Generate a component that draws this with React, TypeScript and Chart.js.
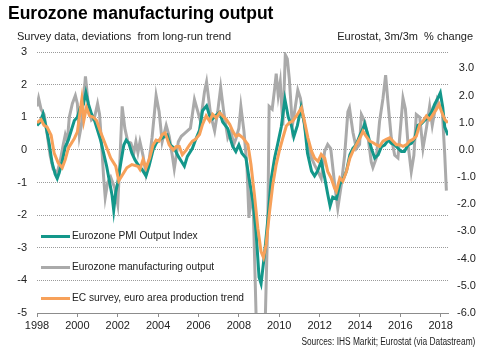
import React, { useEffect, useRef } from "react";
import { Chart, registerables } from "chart.js";

Chart.register(...registerables);

const TITLE = "Eurozone manufacturing output";
const SUB_LEFT = "Survey data, deviations\u00a0 from long-run trend";
const SUB_RIGHT = "Eurostat, 3m/3m\u00a0 % change";
const SOURCE = "Sources: IHS Markit; Eurostat (via Datastream)";

const seriesNames = [
  "Eurozone PMI Output Index",
  "Eurozone manufacturing output",
  "EC survey, euro area production trend",
];
const seriesColors = ["#13978a", "#aaaaaa", "#f7a15a"];

const xTicks = [1998, 2000, 2002, 2004, 2006, 2008, 2010, 2012, 2014, 2016, 2018];
const leftTicks = [-5, -4, -3, -2, -1, 0, 1, 2, 3];
const rightTicks = [-6, -5, -4, -3, -2, -1, 0, 1, 2, 3];

// [decimal year, value] — survey deviation from trend (left axis)
const pmiOutput: [number, number][] = [
  [1998.0, 0.75], [1998.15, 0.85], [1998.3, 1.1], [1998.45, 0.7], [1998.6, 0.2], [1998.75, -0.4],
  [1998.9, -0.75], [1999.0, -0.88], [1999.1, -0.7], [1999.25, -0.35], [1999.4, 0.1], [1999.55, 0.3],
  [1999.7, 0.6], [1999.85, 0.9], [2000.0, 1.0], [2000.15, 1.3], [2000.3, 1.4], [2000.42, 1.75],
  [2000.55, 1.4], [2000.7, 1.1], [2000.85, 0.9], [2001.0, 0.6], [2001.15, 0.3], [2001.3, -0.1],
  [2001.45, -0.5], [2001.6, -1.0], [2001.72, -1.4], [2001.8, -1.85], [2001.9, -1.3], [2002.0, -1.0],
  [2002.15, -0.4], [2002.3, 0.15], [2002.42, 0.3], [2002.55, 0.2], [2002.7, -0.1], [2002.85, -0.3],
  [2003.0, -0.45], [2003.2, -0.6], [2003.4, -0.8], [2003.55, -0.5], [2003.75, 0.0], [2003.9, 0.2],
  [2004.05, 0.3], [2004.3, 0.4], [2004.45, 0.45], [2004.6, 0.15], [2004.8, 0.05], [2005.0, -0.2],
  [2005.15, -0.35], [2005.3, -0.5], [2005.45, -0.2], [2005.7, 0.05], [2005.85, 0.3], [2006.05, 0.6],
  [2006.2, 1.2], [2006.4, 1.35], [2006.55, 1.05], [2006.7, 0.95], [2006.85, 1.05], [2007.05, 1.15],
  [2007.2, 0.85], [2007.45, 0.65], [2007.6, 0.3], [2007.7, 0.1], [2007.85, -0.05], [2008.0, 0.15],
  [2008.15, -0.1], [2008.35, -0.25], [2008.5, -0.85], [2008.7, -1.6], [2008.85, -2.5], [2009.0, -3.9],
  [2009.1, -4.1], [2009.27, -3.2], [2009.44, -2.1], [2009.6, -0.9], [2009.77, -0.25], [2009.93, 0.2],
  [2010.1, 0.7], [2010.28, 1.55], [2010.45, 1.0], [2010.6, 0.75], [2010.72, 0.4], [2010.9, 0.75],
  [2011.08, 1.3], [2011.25, 0.8], [2011.4, -0.1], [2011.6, -0.65], [2011.75, -0.8], [2011.9, -0.65],
  [2012.08, -0.35], [2012.25, -0.85], [2012.4, -1.35], [2012.52, -1.72], [2012.65, -1.45], [2012.83, -1.5],
  [2013.0, -1.05], [2013.2, -0.85], [2013.33, -0.65], [2013.5, -0.15], [2013.65, 0.05], [2013.8, 0.15],
  [2014.0, 0.45], [2014.15, 0.65], [2014.23, 0.8], [2014.4, 0.45], [2014.56, 0.05], [2014.73, -0.25],
  [2014.9, -0.15], [2015.06, 0.1], [2015.22, 0.15], [2015.4, 0.3], [2015.55, 0.2], [2015.72, 0.15],
  [2015.88, 0.05], [2016.05, -0.05], [2016.2, -0.05], [2016.38, 0.15], [2016.55, 0.2], [2016.71, 0.35],
  [2016.87, 0.75], [2017.04, 0.8], [2017.2, 0.9], [2017.37, 1.0], [2017.54, 1.15], [2017.7, 1.4],
  [2017.87, 1.6], [2017.98, 1.75], [2018.1, 1.3], [2018.2, 0.7], [2018.36, 0.45],
];

// [decimal year, 3m/3m % change] — Eurostat (right axis)
const eurostatOutput: [number, number][] = [
  [1998.0, 1.6], [1998.08, 1.9], [1998.2, 1.5], [1998.35, 1.3], [1998.5, 0.6], [1998.65, -0.2],
  [1998.8, -0.7], [1999.0, -0.85], [1999.15, -0.4], [1999.3, 0.2], [1999.4, 0.55], [1999.5, 0.3],
  [1999.6, 1.2], [1999.75, 1.7], [1999.9, 2.0], [2000.0, 1.7], [2000.1, 0.5], [2000.2, 0.9],
  [2000.4, 2.7], [2000.55, 1.6], [2000.7, 1.1], [2000.85, 1.2], [2001.0, 1.7], [2001.1, 1.3],
  [2001.2, 0.2], [2001.3, -1.0], [2001.38, -1.75], [2001.5, -1.2], [2001.65, -1.0], [2001.85, -1.4],
  [2002.0, -2.0], [2002.1, -0.5], [2002.22, 1.6], [2002.35, 0.8], [2002.5, 0.3], [2002.65, 0.25],
  [2002.8, -0.1], [2002.9, 0.3], [2003.0, -0.1], [2003.1, 0.3], [2003.25, -0.2], [2003.4, -0.9],
  [2003.55, -0.4], [2003.7, 0.45], [2003.9, 2.0], [2004.05, 1.4], [2004.2, 0.3], [2004.4, 0.9],
  [2004.55, 0.5], [2004.7, -0.2], [2004.8, -0.7], [2005.0, 0.3], [2005.15, 0.5], [2005.3, 0.6],
  [2005.45, 0.7], [2005.6, 0.8], [2005.8, 1.85], [2005.95, 1.45], [2006.1, 1.05], [2006.3, 2.15],
  [2006.4, 2.5], [2006.6, 1.3], [2006.8, 0.7], [2006.95, 1.4], [2007.1, 2.3], [2007.25, 1.4],
  [2007.45, 0.45], [2007.6, 0.7], [2007.75, 0.2], [2007.85, 0.4], [2008.0, 0.8], [2008.1, 1.6],
  [2008.25, 0.7], [2008.4, -0.6], [2008.5, -2.5], [2008.6, -1.6], [2008.72, -2.3], [2008.85, -6.0],
  [2009.0, -9.0], [2009.15, -9.5], [2009.3, -6.5], [2009.44, -2.3], [2009.5, 1.6], [2009.65, 1.5],
  [2009.78, 2.3], [2009.85, 2.8], [2009.95, 2.0], [2010.05, 2.5], [2010.18, 0.9], [2010.3, 3.5],
  [2010.4, 3.35], [2010.5, 2.6], [2010.65, 0.9], [2010.78, 1.5], [2010.92, 2.2], [2011.05, 1.9],
  [2011.25, 0.9], [2011.42, 0.2], [2011.6, -0.3], [2011.75, -0.55], [2011.92, -0.8], [2012.08, -1.05],
  [2012.25, -0.05], [2012.4, 0.2], [2012.55, 0.05], [2012.75, -1.3], [2012.9, -2.15], [2013.07, -1.3],
  [2013.24, -0.2], [2013.4, 1.4], [2013.48, 1.55], [2013.65, 0.65], [2013.82, 0.05], [2013.98, 0.2],
  [2014.07, 1.3], [2014.23, 1.05], [2014.4, 0.45], [2014.56, -0.45], [2014.64, -0.65], [2014.81, -0.3],
  [2014.97, 1.05], [2015.14, 1.9], [2015.27, 2.75], [2015.38, 1.8], [2015.55, 0.45], [2015.72, -0.2],
  [2015.88, -0.3], [2016.05, 1.2], [2016.13, 1.9], [2016.25, 1.5], [2016.38, 0.2], [2016.54, -0.8],
  [2016.67, -0.2], [2016.79, 1.3], [2016.96, 1.2], [2017.12, 0.05], [2017.29, 0.8], [2017.45, 1.6],
  [2017.58, 0.9], [2017.7, 1.4], [2017.82, 1.85], [2017.95, 1.6], [2018.08, 1.4], [2018.2, -0.2],
  [2018.28, -1.5],
];

// [decimal year, value] — EC survey production trend (left axis)
const ecSurvey: [number, number][] = [
  [1998.0, 0.83], [1998.2, 0.93], [1998.35, 0.75], [1998.5, 0.7], [1998.7, 0.45], [1998.85, -0.1],
  [1999.05, -0.4], [1999.25, -0.55], [1999.4, -0.3], [1999.55, 0.05], [1999.7, 0.2], [1999.85, 0.35],
  [2000.0, 0.55], [2000.12, 1.1], [2000.22, 1.55], [2000.32, 0.9], [2000.45, 1.3], [2000.6, 1.05],
  [2000.8, 1.0], [2000.95, 0.9], [2001.15, 0.55], [2001.4, 0.15], [2001.65, -0.25], [2001.9, -0.5],
  [2002.05, -0.95], [2002.2, -0.8], [2002.45, -0.55], [2002.7, -0.45], [2003.0, -0.5], [2003.1, -0.6],
  [2003.25, -0.3], [2003.4, -0.55], [2003.58, -0.25], [2003.75, 0.15], [2003.9, 0.3], [2004.05, 0.27],
  [2004.2, 0.47], [2004.35, 0.52], [2004.55, 0.15], [2004.75, 0.0], [2004.9, 0.1], [2005.05, 0.1],
  [2005.2, -0.15], [2005.4, 0.0], [2005.55, 0.15], [2005.7, 0.27], [2005.85, 0.32], [2006.05, 0.47],
  [2006.2, 0.78], [2006.38, 1.04], [2006.55, 0.88], [2006.7, 1.09], [2006.88, 0.98], [2007.05, 1.14],
  [2007.2, 1.04], [2007.38, 0.93], [2007.55, 0.78], [2007.7, 0.57], [2007.85, 0.42], [2008.0, 0.47],
  [2008.2, 0.37], [2008.45, 0.16], [2008.6, -0.45], [2008.77, -1.37], [2008.94, -2.4], [2009.1, -3.12],
  [2009.22, -3.3], [2009.35, -2.9], [2009.52, -1.9], [2009.68, -1.07], [2009.85, -0.45], [2010.0, -0.04],
  [2010.18, 0.37], [2010.35, 0.73], [2010.5, 0.83], [2010.67, 0.88], [2010.85, 1.04], [2011.0, 1.19],
  [2011.1, 1.29], [2011.25, 0.88], [2011.42, 0.37], [2011.6, -0.04], [2011.75, -0.25], [2011.92, -0.35],
  [2012.08, -0.14], [2012.25, -0.25], [2012.4, -0.66], [2012.57, -0.86], [2012.74, -1.17], [2012.83, -1.27],
  [2013.0, -0.86], [2013.15, -0.96], [2013.33, -0.66], [2013.5, -0.25], [2013.65, -0.04], [2013.82, 0.16],
  [2014.0, 0.37], [2014.15, 0.57], [2014.3, 0.42], [2014.48, 0.27], [2014.65, 0.22], [2014.8, 0.16],
  [2014.97, 0.11], [2015.14, 0.27], [2015.3, 0.32], [2015.47, 0.37], [2015.63, 0.27], [2015.8, 0.16],
  [2015.97, 0.16], [2016.13, 0.11], [2016.3, 0.16], [2016.46, 0.27], [2016.62, 0.32], [2016.79, 0.42],
  [2016.96, 0.78], [2017.12, 0.88], [2017.29, 1.04], [2017.45, 0.93], [2017.62, 1.09], [2017.78, 1.24],
  [2017.92, 1.39], [2018.03, 1.19], [2018.2, 0.93], [2018.36, 0.83],
];

const FONT = "'Liberation Sans', Arial, Helvetica, sans-serif";

const toPoints = (arr: [number, number][]) => arr.map(([x, y]) => ({ x, y }));

export default function App() {
  const ref = useRef<HTMLCanvasElement>(null);

  useEffect(() => {
    if (!ref.current) return;
    Chart.defaults.font.family = FONT;
    const chart = new Chart(ref.current, {
      type: "line",
      data: {
        datasets: [
          {
            label: seriesNames[0],
            data: toPoints(pmiOutput),
            borderColor: seriesColors[0],
            backgroundColor: seriesColors[0],
            borderWidth: 3,
            pointRadius: 0,
            tension: 0,
            yAxisID: "y",
            order: 2,
          },
          {
            label: seriesNames[1],
            data: toPoints(eurostatOutput),
            borderColor: seriesColors[1],
            backgroundColor: seriesColors[1],
            borderWidth: 3,
            pointRadius: 0,
            tension: 0,
            yAxisID: "y1",
            order: 3,
          },
          {
            label: seriesNames[2],
            data: toPoints(ecSurvey),
            borderColor: seriesColors[2],
            backgroundColor: seriesColors[2],
            borderWidth: 3,
            pointRadius: 0,
            tension: 0,
            yAxisID: "y",
            order: 1,
          },
        ],
      },
      options: {
        responsive: false,
        animation: false,
        layout: { padding: { top: 52, left: 0, right: 0, bottom: 0 } },
        plugins: {
          legend: { display: false },
          tooltip: { enabled: false },
          title: { display: false },
        },
        scales: {
          x: {
            type: "linear",
            min: 1998,
            max: 2018.36,
            afterBuildTicks: (s: any) => {
              s.ticks = xTicks.map((v) => ({ value: v }));
            },
            afterFit: (s: any) => {
              s.height = 43;
            },
            grid: {
              drawOnChartArea: false,
              drawTicks: true,
              tickLength: 4,
              color: "#8c8c8c",
            },
            border: { display: true, color: "#8c8c8c", width: 1 },
            ticks: {
              padding: 2,
              color: "#222",
              font: { size: 11, family: FONT },
              maxRotation: 0,
              autoSkip: false,
              callback: (v: any) => String(v),
            },
          },
          y: {
            position: "left",
            min: -5,
            max: 3,
            afterBuildTicks: (s: any) => {
              s.ticks = leftTicks.map((v) => ({ value: v }));
            },
            afterFit: (s: any) => {
              s.width = 37;
            },
            grid: { color: "#9a9a9a", drawTicks: false, lineWidth: 1 },
            border: { display: false, dash: [1, 1] },
            ticks: {
              padding: 10,
              color: "#222",
              font: { size: 11, family: FONT },
              callback: (v: any) => String(v),
            },
          },
          y1: {
            position: "right",
            min: -6,
            max: 3.6,
            afterBuildTicks: (s: any) => {
              s.ticks = rightTicks.map((v) => ({ value: v }));
            },
            afterFit: (s: any) => {
              s.width = 50;
            },
            grid: { drawOnChartArea: false, drawTicks: false },
            border: { display: false },
            ticks: {
              padding: 9,
              crossAlign: "center",
              color: "#222",
              font: { size: 11, family: FONT },
              callback: (v: any) => Number(v).toFixed(1),
            },
          },
        },
      },
    } as any);
    return () => chart.destroy();
  }, []);

  const legendRows = [236, 267, 298];

  return (
    <div
      style={{
        position: "absolute",
        left: 0,
        top: 0,
        width: 498,
        height: 356,
        background: "#ffffff",
        fontFamily: FONT,
        color: "#111",
        overflow: "hidden",
      }}
    >
      <canvas
        ref={ref}
        width={498}
        height={356}
        style={{ position: "absolute", left: 0, top: 0, width: 498, height: 356 }}
      />
      <div
        style={{
          position: "absolute",
          left: 8,
          top: 4.5,
          fontSize: 17.5,
          lineHeight: "17.5px",
          fontWeight: "bold",
          whiteSpace: "nowrap",
          color: "#000",
        }}
      >
        {TITLE}
      </div>
      <div
        style={{
          position: "absolute",
          left: 17,
          top: 30.7,
          fontSize: 11,
          lineHeight: "11px",
          whiteSpace: "pre",
          color: "#222",
        }}
      >
        {SUB_LEFT}
      </div>
      <div
        style={{
          position: "absolute",
          right: 25,
          top: 30.7,
          fontSize: 11,
          lineHeight: "11px",
          whiteSpace: "pre",
          color: "#222",
          textAlign: "right",
        }}
      >
        {SUB_RIGHT}
      </div>
      {seriesNames.map((name, i) => (
        <React.Fragment key={name}>
          <div
            style={{
              position: "absolute",
              left: 41,
              top: legendRows[i] - 1.5,
              width: 29,
              height: 3,
              background: seriesColors[i],
            }}
          />
          <div
            style={{
              position: "absolute",
              left: 72,
              top: legendRows[i] - 5,
              fontSize: 10.2,
              lineHeight: "10.2px",
              whiteSpace: "nowrap",
              color: "#222",
            }}
          >
            {name}
          </div>
        </React.Fragment>
      ))}
      <div
        style={{
          position: "absolute",
          right: 23,
          top: 337,
          fontSize: 10,
          lineHeight: "10px",
          whiteSpace: "nowrap",
          color: "#222",
          transform: "scaleX(0.835)",
          transformOrigin: "right center",
        }}
      >
        {SOURCE}
      </div>
    </div>
  );
}
